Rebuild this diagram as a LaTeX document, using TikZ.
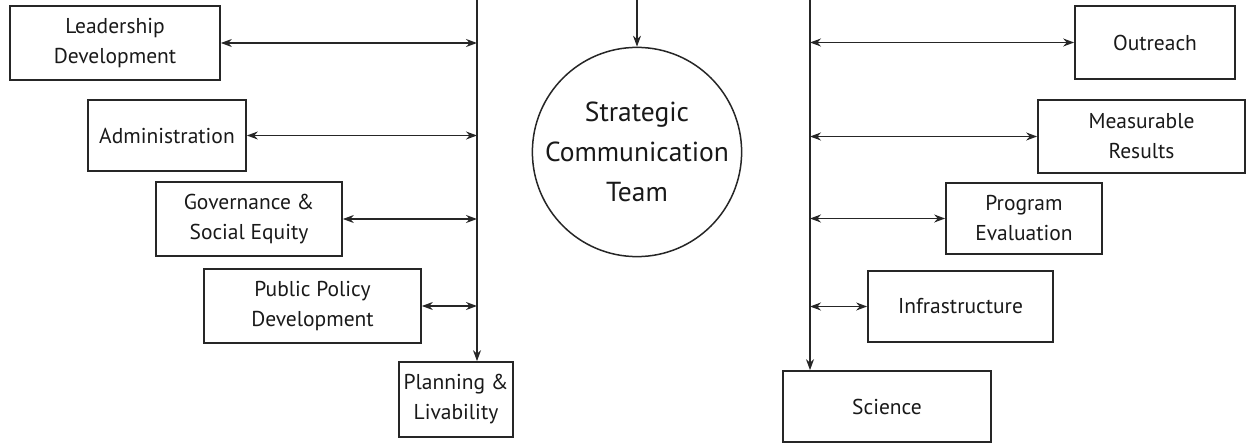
\documentclass[tikz,border=0pt]{standalone}
\usepackage{fontspec}
\setmainfont{PT Sans}
\usetikzlibrary{arrows.meta}
\begin{document}
\begin{tikzpicture}[x=1pt,y=-1pt,
  box/.style={draw=black!85,line width=1.7pt,align=center,inner sep=0pt,
    font=\fontsize{21.5}{30}\selectfont,text=black!90},
  link/.style={line width=1.5pt,draw=black!85,{Stealth[length=11pt,width=8pt]}-{Stealth[length=11pt,width=8pt]}},
  down/.style={line width=1.5pt,draw=black!85,-{Stealth[length=11pt,width=8pt]}}]
\useasboundingbox (0,0) rectangle (1248,444);
% left boxes
\node[box,minimum width=210pt,minimum height=74pt] (lead) at (115,43) {Leadership\\Development};
\node[box,minimum width=158pt,minimum height=71pt] (admin) at (167,135.5) {Administration};
\node[box,minimum width=186pt,minimum height=74pt] (gov) at (249,219) {Governance \&\\Social Equity};
\node[box,minimum width=217pt,minimum height=74pt] (pol) at (312.5,306) {Public Policy\\Development};
\node[box,minimum width=114pt,minimum height=75pt] (plan) at (456,399.5) {Planning \&\\Livability};
% right boxes
\node[box,minimum width=160pt,minimum height=73pt] (out) at (1155,42.5) {Outreach};
\node[box,minimum width=207pt,minimum height=73pt] (meas) at (1141.5,136.5) {Measurable\\Results};
\node[box,minimum width=156pt,minimum height=71pt] (prog) at (1024,218.5) {Program\\Evaluation};
\node[box,minimum width=185pt,minimum height=71pt] (infra) at (960.5,306.5) {Infrastructure};
\node[box,minimum width=208pt,minimum height=71pt] (sci) at (887,406.5) {Science};
% circle
\node[circle,draw=black!85,line width=1.5pt,minimum size=208pt,inner sep=0pt,align=center,
  font=\fontsize{27.5}{40}\selectfont,text=black!90] (team) at (637,152) {Strategic\\Communication\\Team};
% spines
\coordinate (ltop) at (477,0);
\coordinate (rtop) at (810,0);
\coordinate (ctop) at (637,0);
\draw[down] (ltop) -- (ltop |- plan.north);
\draw[down] (rtop) -- (rtop |- sci.north);
\draw[down] (ctop) -- (team.north);
% left links
\draw[link] (lead.east) -- (lead.east -| ltop);
\draw[link] (admin.east) -- (admin.east -| ltop);
\draw[link] (gov.east) -- (gov.east -| ltop);
\draw[link] (pol.east) -- (pol.east -| ltop);
% right links
\draw[link] (rtop |- out.west) -- (out.west);
\draw[link] (rtop |- meas.west) -- (meas.west);
\draw[link] (rtop |- prog.west) -- (prog.west);
\draw[link] (rtop |- infra.west) -- (infra.west);
\end{tikzpicture}
\end{document}
